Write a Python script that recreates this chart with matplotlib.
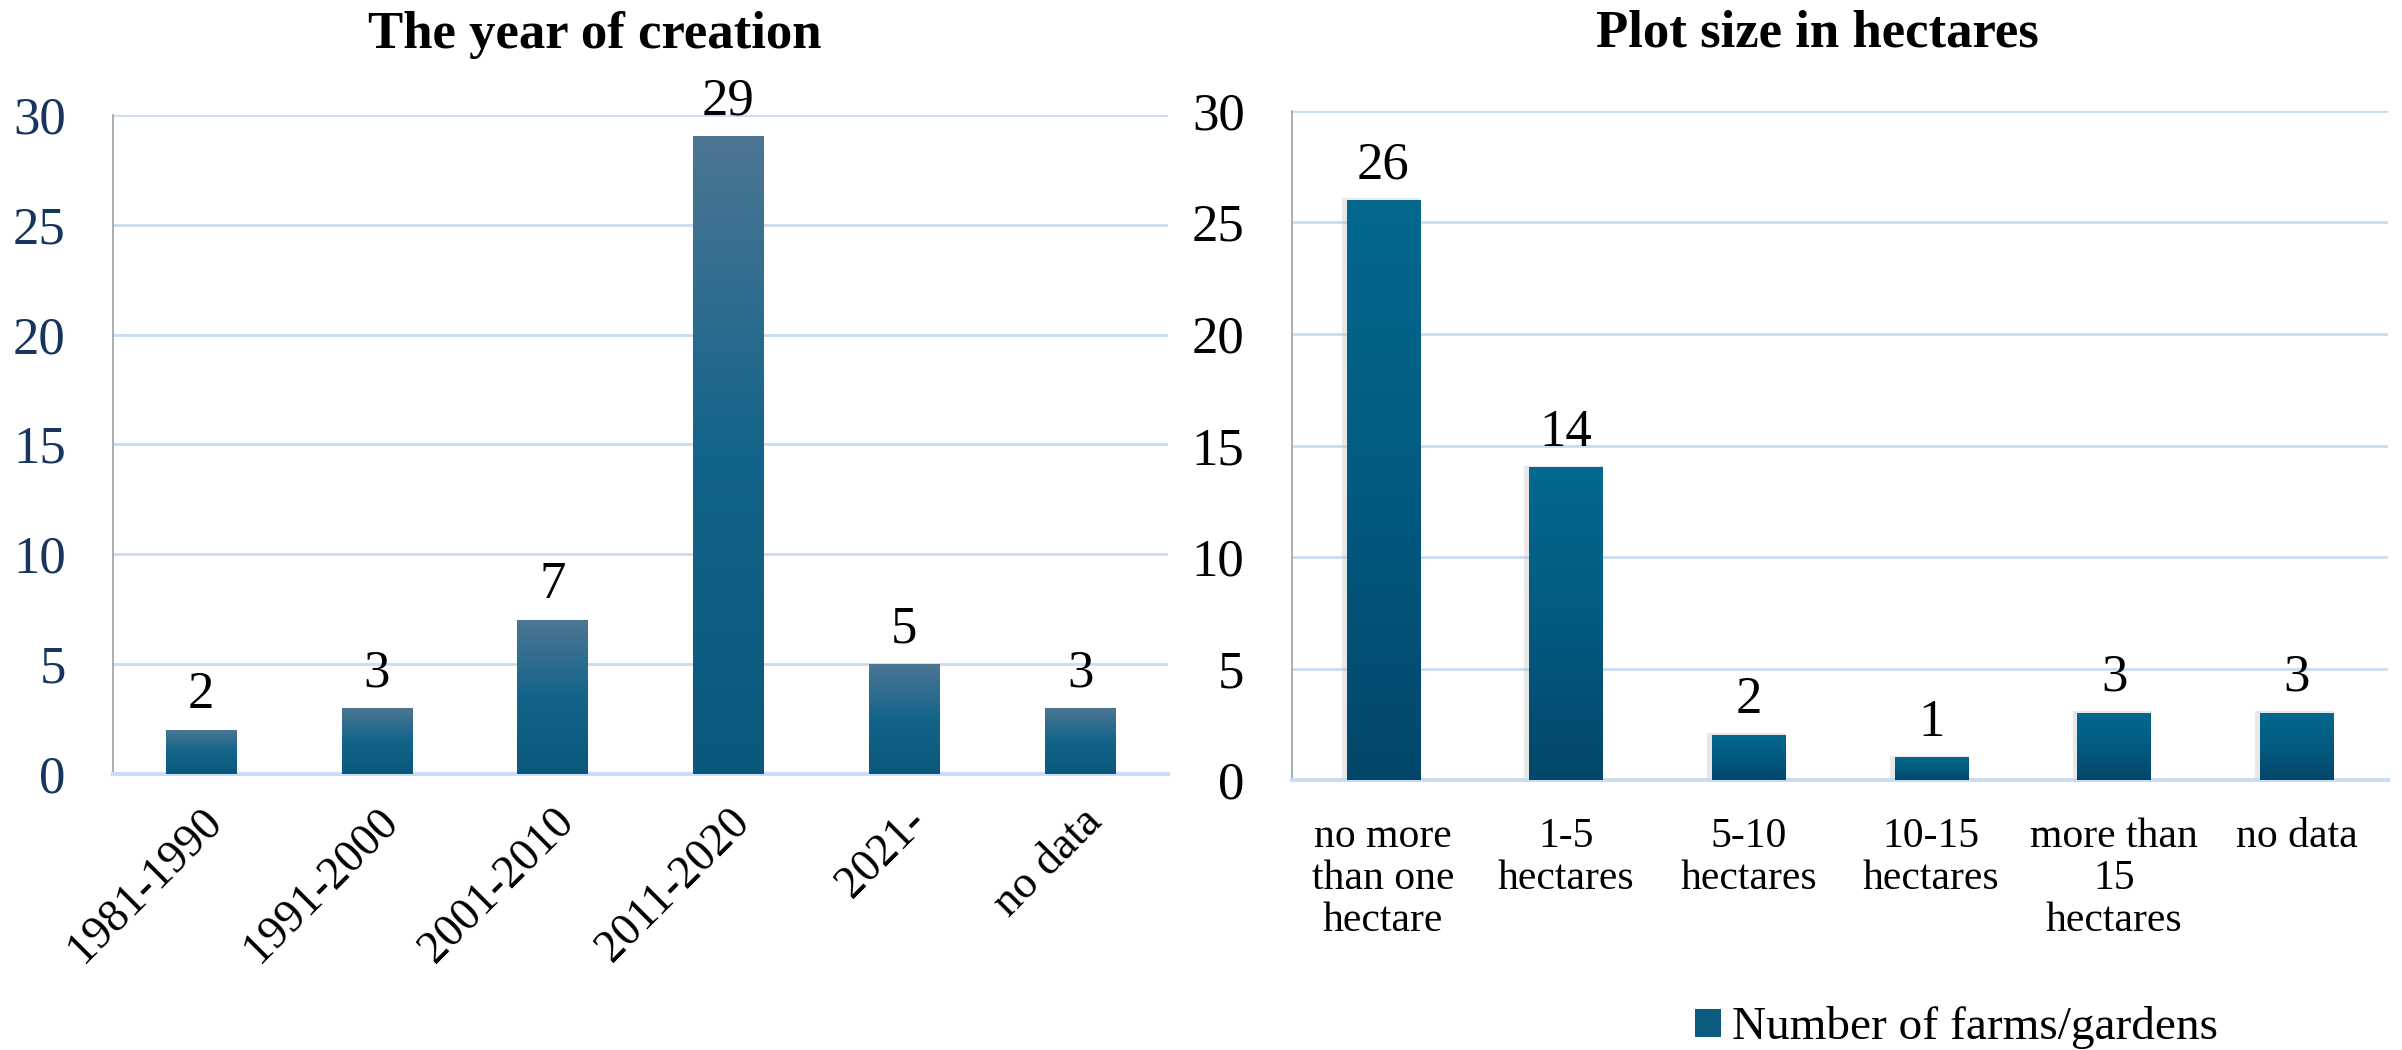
import matplotlib
matplotlib.use("Agg")
import matplotlib.pyplot as plt
import numpy as np
from matplotlib.colors import LinearSegmentedColormap
from matplotlib.patches import Patch

plt.rcParams["font.family"] = ["Liberation Serif", "DejaVu Serif"]

# ── data ──
year_labels = ["1981-1990", "1991-2000", "2001-2010", "2011-2020", "2021-", "no data"]
year_counts = [2, 3, 7, 29, 5, 3]

size_labels = ["no more\nthan one\nhectare", "1-5\nhectares", "5-10\nhectares",
               "10-15\nhectares", "more than\n15\nhectares", "no data"]
size_counts = [26, 14, 2, 1, 3, 3]

legend_label = "Number of farms/gardens"

# ── colours ──
GRID = "#C9DCF0"
cmap_left = LinearSegmentedColormap.from_list(
    "left", ["#0A587C", "#13648A", "#4C7694"])   # bottom -> top
cmap_right = LinearSegmentedColormap.from_list(
    "right", ["#02476A", "#035A80", "#04688F"])


def gradient_bars(ax, counts, cmap, width=0.4, shadow=False):
    bars = ax.bar(range(len(counts)), counts, width=width, color="none",
                  edgecolor="none", zorder=3)
    grad = np.linspace(0, 1, 256).reshape(-1, 1)
    for b in bars:
        x0, w, h = b.get_x(), b.get_width(), b.get_height()
        if shadow:
            # lekki cień jak w oryginale (Excel)
            ax.bar(x0 + w / 2 - 0.012, h + 0.1, width=w + 0.03, color="#BFBFBF",
                   alpha=0.35, edgecolor="none", zorder=2)
        ax.imshow(grad, extent=[x0, x0 + w, 0, h], origin="lower",
                  cmap=cmap, aspect="auto", zorder=3)
    return bars


def style_axis(ax, tick_color):
    ax.set_xlim(-0.5, len(year_counts) - 0.5)
    ax.set_ylim(0, 30)
    ax.set_yticks(range(0, 31, 5))
    ax.yaxis.grid(True, color=GRID, linewidth=2, zorder=0)
    ax.set_axisbelow(True)
    for s in ("top", "right"):
        ax.spines[s].set_visible(False)
    ax.spines["left"].set_color("#A0A0A0")
    ax.spines["left"].set_linewidth(1.2)
    ax.spines["bottom"].set_color(GRID)
    ax.spines["bottom"].set_linewidth(3)
    ax.tick_params(axis="both", length=0)
    ax.tick_params(axis="y", labelsize=38, labelcolor=tick_color, pad=34)


fig = plt.figure(figsize=(24.02, 10.5), dpi=100)

# ── left: year of creation ──
ax1 = fig.add_axes([0.0470, 0.2629, 0.4393, 0.6276])
gradient_bars(ax1, year_counts, cmap_left)
style_axis(ax1, "#17365D")
ax1.set_xticks(range(len(year_labels)))
ax1.set_xticklabels(year_labels, rotation=45, ha="right", rotation_mode="anchor",
                    fontsize=33)
ax1.tick_params(axis="x", pad=19)
for i, v in enumerate(year_counts):
    ax1.text(i, v + 0.5, str(v), ha="center", va="bottom", fontsize=38, zorder=4)

fig.text(0.2477, 0.954, "The year of creation", ha="center", va="baseline",
         fontsize=38, fontweight="bold")

# ── right: plot size ──
ax2 = fig.add_axes([0.5378, 0.2571, 0.4564, 0.6372])
gradient_bars(ax2, size_counts, cmap_right, shadow=True)
style_axis(ax2, "black")
ax2.set_xticks(range(len(size_labels)))
ax2.set_xticklabels(size_labels, fontsize=30, linespacing=1.12, va="top")
ax2.tick_params(axis="x", pad=27)
for i, v in enumerate(size_counts):
    ax2.text(i, v + 0.5, str(v), ha="center", va="bottom", fontsize=38, zorder=4)

fig.text(0.7565, 0.956, "Plot size in hectares", ha="center", va="baseline",
         fontsize=38, fontweight="bold")

# ── legend ──
fig.legend(handles=[Patch(facecolor="#0B5C80", edgecolor="none", label=legend_label)],
           loc="center left", bbox_to_anchor=(0.7055, 0.021), frameon=False,
           fontsize=34, handlelength=0.55, handleheight=0.55, handletextpad=0.25,
           borderpad=0, borderaxespad=0)

fig.savefig("out.png", dpi=100)
